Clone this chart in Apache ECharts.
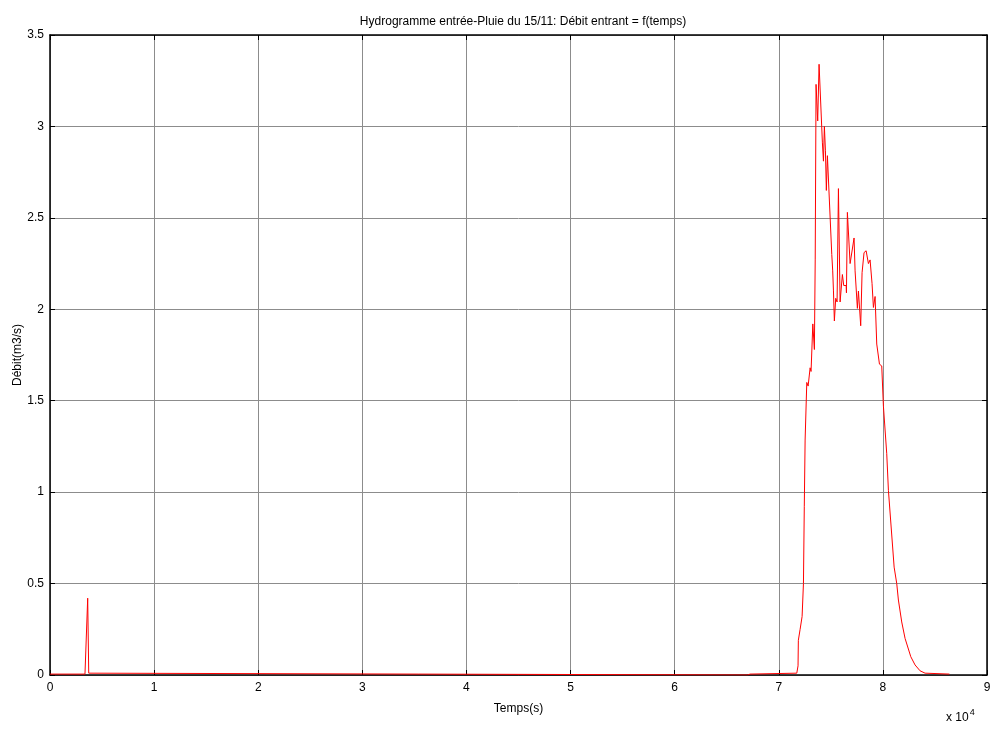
<!DOCTYPE html>
<html><head><meta charset="utf-8">
<script src="https://cdn.jsdelivr.net/npm/echarts@6/dist/echarts.min.js"></script>
<style>html,body{margin:0;padding:0;background:#fff}#c{width:992px;height:729px}</style>
</head><body><div id="c"></div>
<script>
const titleText = 'Hydrogramme entrée-Pluie du 15/11: Débit entrant = f(temps)';
const xName = 'Temps(s)';
const yName = 'Débit(m3/s)';
const xTicks = [0,1,2,3,4,5,6,7,8,9];
const yTicks = [0,0.5,1,1.5,2,2.5,3,3.5];
const timeS = [0,3360,3520,3620,3720,3800,3900,67000,67240,71730,71850,71880,72050,72240,72370,72450,72530,72690,72820,73010,73100,73270,73420,73500,73580,73740,73870,74190,74290,74380,74480,74570,74670,75090,75180,75250,75340,75470,75600,75730,75890,76110,76240,76470,76500,76590,76850,77040,77230,77330,77550,77650,77870,78000,78190,78390,78610,78770,78960,79090,79250,79410,79670,79890,80050,80370,80530,81080,81330,81490,81810,82130,82680,83090,83570,84050,86390];
const debit = [0.005,0.005,0.01,0.42,0.01,0.005,0,0,0.005,0.01,0.05,0.19,0.25,0.32,0.50,0.92,1.285,1.60,1.58,1.68,1.66,1.92,1.78,2.27,3.23,3.03,3.34,2.91,2.81,3.0,2.87,2.65,2.84,2.30,2.21,2.105,1.936,2.06,2.04,2.66,2.04,2.19,2.13,2.13,2.09,2.53,2.25,2.25,2.39,2.21,2.005,2.10,1.91,2.20,2.31,2.32,2.25,2.27,2.14,2.01,2.07,1.81,1.70,1.69,1.47,1.21,1.01,0.59,0.50,0.41,0.29,0.20,0.10,0.055,0.023,0.01,0.005];
const data = timeS.map((t,i)=>[t, debit[i]]);
const font = 'Liberation Sans, Arial, sans-serif';
const chart = echarts.init(document.getElementById('c'));
const gridLine = {show:true, lineStyle:{color:'#8c8c8c', width:1, type:'solid'}};
const tick = {show:true, inside:true, length:5, lineStyle:{color:'#000', width:1}};
const frameLine = {show:true, onZero:false, lineStyle:{color:'#000', width:1.5}};
chart.setOption({
  animation:false,
  title:{text:titleText, left:518, top:11, textAlign:'center', textStyle:{fontFamily:font, fontSize:12, fontWeight:'normal', color:'#000'}},
  grid:{left:50, right:5, top:35, bottom:54, outerBoundsMode:'none', containLabel:false},
  xAxis:[{type:'value', min:0, max:90000, interval:10000, position:'bottom',
    name:xName, nameLocation:'middle', nameGap:28, nameTextStyle:{fontFamily:font, fontSize:12, color:'#000'},
    axisLine:frameLine, axisTick:tick,
    axisLabel:{fontFamily:font, fontSize:12, color:'#000', margin:7, formatter:v=>String(v/10000)},
    splitLine:gridLine},
   {type:'value', min:0, max:90000, interval:10000, position:'top',
    axisLine:frameLine, axisTick:tick,
    axisLabel:{show:false}, splitLine:{show:false}}],
  yAxis:[{type:'value', min:0, max:3.5, interval:0.5, position:'left',
    axisLine:frameLine, axisTick:tick,
    axisLabel:{fontFamily:font, fontSize:12, color:'#000', margin:6, formatter:v=>String(v)},
    splitLine:gridLine},
   {type:'value', min:0, max:3.5, interval:0.5, position:'right',
    axisLine:frameLine, axisTick:tick,
    axisLabel:{show:false}, splitLine:{show:false}}],
  graphic:[
    {type:'text', left:946, top:708, style:{text:'x 10{s|4}', rich:{s:{fontSize:9, verticalAlign:'top', padding:[0,0,10,1]}}, fontFamily:font, fontSize:12, fill:'#000'}},
    {type:'text', x:18, y:355, rotation:Math.PI/2, style:{text:yName, fontFamily:font, fontSize:12, fill:'#000', align:'center', verticalAlign:'middle'}}
  ],
  series:[{type:'line', data:data, showSymbol:false, xAxisIndex:0, yAxisIndex:0,
    lineStyle:{color:'#ff0000', width:1}, itemStyle:{color:'#ff0000'}}]
});
</script></body></html>
